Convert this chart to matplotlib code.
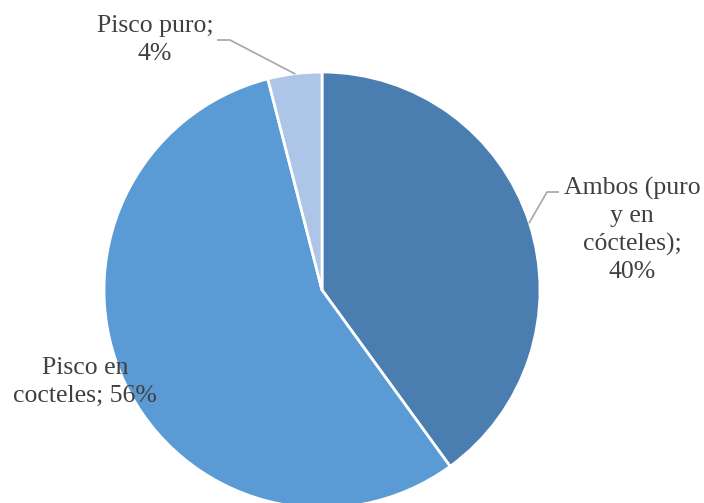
import numpy as np
import matplotlib.pyplot as plt

plt.rcParams['font.family'] = ['Liberation Serif', 'DejaVu Serif']

labels = ['Ambos (puro\ny en\ncócteles);\n40%', 'Pisco en\ncocteles; 56%', 'Pisco puro;\n4%']
values = [40, 56, 4]
colors = ['#4a7eb0', '#5b9bd5', '#adc5e7']

fig = plt.figure(figsize=(7.04, 5.03), dpi=100)
ax = fig.add_axes([0, 0, 1, 1])

cx, cy, r = 322, 213, 218
wedges, _ = ax.pie(values, colors=colors, startangle=90, counterclock=False,
                   center=(cx, cy), radius=r, frame=True,
                   wedgeprops=dict(edgecolor='white', linewidth=2))
ax.set_xlim(0, 704)
ax.set_ylim(0, 503)
ax.set_aspect('equal')
ax.axis('off')

txt = dict(fontsize=18.5, color='#404040', ha='center', va='center', linespacing=1.32)

# Ambos
w = wedges[0]
a = np.deg2rad((w.theta1 + w.theta2) / 2)
ex, ey = cx + r * np.cos(a), cy + r * np.sin(a)
ax.plot([ex, 547, 558], [ey, 311, 311], color='#a6a6a6', lw=1.2)
ax.text(632, 273, labels[0], **txt)

# Pisco en cocteles
ax.text(85, 121, labels[1], **txt)

# Pisco puro
w = wedges[2]
a = np.deg2rad((w.theta1 + w.theta2) / 2)
ex, ey = cx + r * np.cos(a), cy + r * np.sin(a)
ax.plot([ex, 230, 218], [ey, 463, 463], color='#a6a6a6', lw=1.2)
ax.text(155, 463, labels[2], **txt)

fig.savefig('out.png', dpi=100)
